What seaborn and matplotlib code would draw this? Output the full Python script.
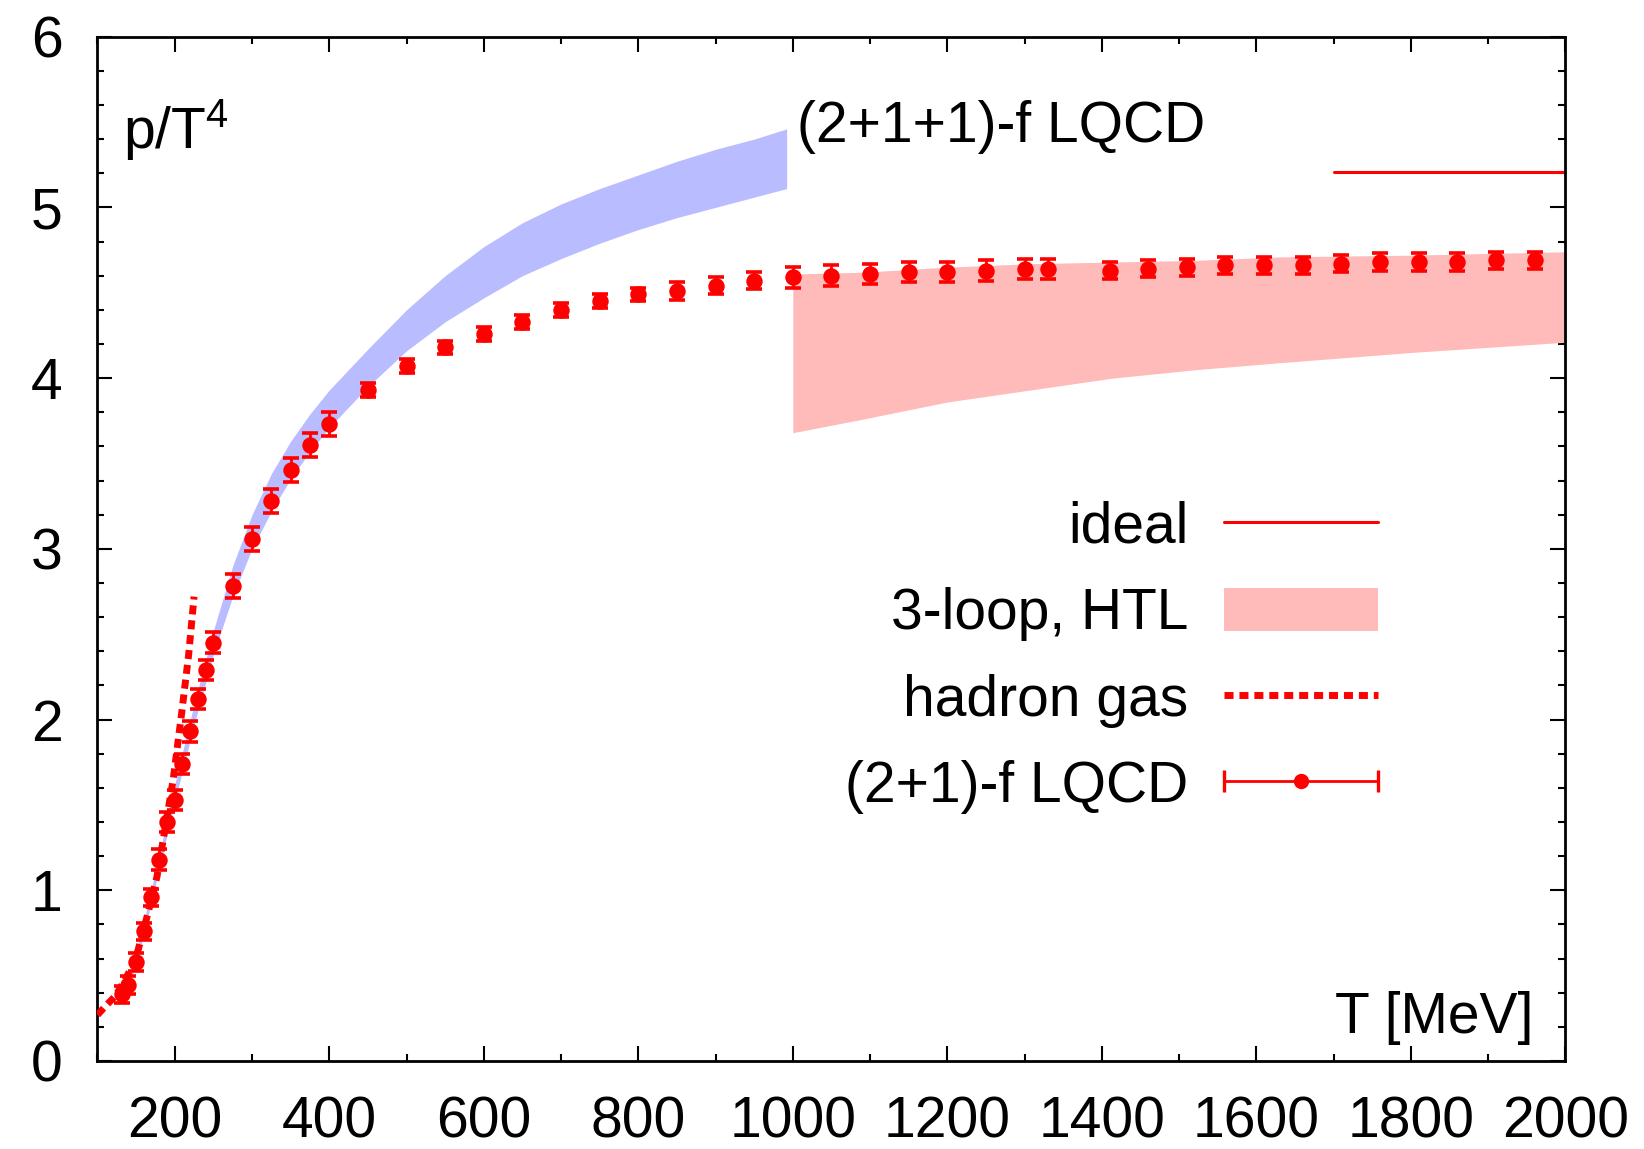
import numpy as np
import matplotlib
matplotlib.use("Agg")
import matplotlib.pyplot as plt
import seaborn as sns
from matplotlib.lines import Line2D
from matplotlib.patches import Patch
from matplotlib.legend_handler import HandlerLine2D, HandlerTuple
from matplotlib.ticker import MultipleLocator

# ----------------------------
# Data
# ----------------------------
# (2+1)-f LQCD points
T_lqcd = [132, 140, 150, 160, 169, 179, 190, 200, 210, 220, 230, 240, 250,
          276, 300, 325, 350, 375, 400, 450, 500, 550, 600, 650, 700, 750,
          800, 850, 900, 950, 1000, 1050, 1100, 1150, 1200, 1250, 1300, 1330,
          1410, 1460, 1510, 1560, 1610, 1660, 1710, 1760, 1810, 1860, 1910, 1960]
p_lqcd = [0.39, 0.445, 0.58, 0.76, 0.96, 1.18, 1.40, 1.53, 1.74, 1.93, 2.12, 2.29, 2.45,
          2.78, 3.06, 3.28, 3.46, 3.61, 3.73, 3.93, 4.07, 4.18, 4.26, 4.33, 4.40, 4.45,
          4.49, 4.51, 4.54, 4.57, 4.59, 4.60, 4.61, 4.62, 4.62, 4.63, 4.64, 4.64,
          4.63, 4.64, 4.65, 4.66, 4.66, 4.66, 4.67, 4.68, 4.68, 4.68, 4.69, 4.69]
err_lqcd = [0.05, 0.05, 0.05, 0.05, 0.05, 0.06, 0.06, 0.06, 0.06, 0.06, 0.06, 0.06, 0.06,
            0.07, 0.07, 0.07, 0.07, 0.07, 0.07, 0.04, 0.04, 0.04, 0.04, 0.04, 0.04, 0.04,
            0.04, 0.05, 0.05, 0.05, 0.06, 0.06, 0.06, 0.06, 0.06, 0.06, 0.06, 0.06,
            0.05, 0.05, 0.05, 0.05, 0.05, 0.05, 0.05, 0.05, 0.05, 0.05, 0.05, 0.05]

# (2+1+1)-f LQCD band
T_band = [140, 160, 180, 200, 225, 250, 275, 300, 325, 350, 375, 400, 450, 500,
          550, 600, 650, 700, 750, 800, 850, 900, 950, 992]
band_lo = [0.42, 0.74, 1.13, 1.52, 1.97, 2.38, 2.72, 3.00, 3.22, 3.41, 3.57, 3.71, 3.95, 4.16,
           4.33, 4.47, 4.60, 4.70, 4.79, 4.87, 4.94, 5.00, 5.06, 5.11]
band_hi = [0.48, 0.82, 1.21, 1.62, 2.09, 2.52, 2.90, 3.20, 3.44, 3.63, 3.79, 3.93, 4.17, 4.40,
           4.60, 4.77, 4.91, 5.02, 5.11, 5.19, 5.27, 5.34, 5.40, 5.46]

# 3-loop HTL band
T_htl = [1000, 1091, 1200, 1307, 1414, 1523, 1630, 1800, 2000]
htl_lo = [3.68, 3.76, 3.86, 3.93, 4.00, 4.05, 4.09, 4.15, 4.21]
htl_hi = [4.61, 4.62, 4.65, 4.67, 4.68, 4.69, 4.71, 4.72, 4.74]

# hadron gas
T_hrg = [100, 110, 123, 135, 149, 165, 177, 183, 198, 209, 218, 225]
p_hrg = [0.27, 0.32, 0.38, 0.47, 0.59, 0.86, 1.08, 1.24, 1.65, 2.04, 2.38, 2.72]

# ideal gas limit
T_ideal = [1700, 2000]
p_ideal = [5.209, 5.209]

# ----------------------------
# Style
# ----------------------------
sns.set_theme(style="ticks")
plt.rcParams["font.family"] = ["Liberation Sans", "DejaVu Sans"]
plt.rcParams["mathtext.default"] = "regular"
plt.rcParams["text.color"] = "black"
plt.rcParams["xtick.color"] = "black"
plt.rcParams["ytick.color"] = "black"
FS = 41
RED = "#ff0000"
PINK = "#ffbaba"
BLUE = "#b9bcff"

fig = plt.figure(figsize=(16.44, 11.49), dpi=100)
ax = fig.add_axes([0.0593, 0.0766, 0.8929, 0.8915])

# bands
ax.fill_between(T_band, band_lo, band_hi, color=BLUE, lw=0, zorder=1)
ax.fill_between(T_htl, htl_lo, htl_hi, color=PINK, lw=0, zorder=1)

# lines
sns.lineplot(x=T_ideal, y=p_ideal, color=RED, lw=2.2, ax=ax, zorder=2)
sns.lineplot(x=T_hrg, y=p_hrg, color=RED, lw=5, linestyle=(0, (1.3, 0.85)),
             ax=ax, zorder=4)

# lattice points
ax.errorbar(T_lqcd, p_lqcd, yerr=err_lqcd, fmt="none", ecolor=RED, elinewidth=2,
            capsize=6, capthick=2.6, zorder=3)
sns.scatterplot(x=T_lqcd, y=p_lqcd, color=RED, s=140, edgecolor=RED, linewidth=0,
                ax=ax, zorder=3)

# axes
ax.set_xlim(100, 2000)
ax.set_ylim(0, 6)
ax.xaxis.set_major_locator(MultipleLocator(200))
ax.xaxis.set_minor_locator(MultipleLocator(100))
ax.yaxis.set_major_locator(MultipleLocator(1))
ax.yaxis.set_minor_locator(MultipleLocator(0.2))
ax.tick_params(which="both", direction="in", top=True, right=True, color="black")
ax.tick_params(which="major", length=11, width=1.5)
ax.tick_params(which="minor", length=5, width=1.5)
ax.tick_params(axis="x", which="major", pad=25, labelsize=FS, labelcolor="black")
ax.tick_params(axis="y", which="major", pad=25, labelsize=FS, labelcolor="black")
for sp in ax.spines.values():
    sp.set_linewidth(2)
    sp.set_color("black")
ax.set_xlabel("")
ax.set_ylabel("")

# texts
ax.text(133, 5.35, r"p/T$^{4}$", fontsize=FS, va="baseline", ha="left", color="black")
ax.text(1005, 5.385, "(2+1+1)-f LQCD", fontsize=FS, va="baseline", ha="left", color="black")
ax.text(1959, 0.164, "T [MeV]", fontsize=FS, va="baseline", ha="right", color="black")

# legend
h_ideal = Line2D([], [], color=RED, lw=2.2)
h_htl = Patch(facecolor=PINK, edgecolor="none")
h_hrg = Line2D([], [], color=RED, lw=5, linestyle=(0, (1.3, 0.85)))
h_caps = Line2D([], [], color=RED, lw=2, marker="|", markersize=16, markeredgewidth=2.4)
h_dot = Line2D([], [], color=RED, linestyle="none", marker="o", markersize=10)
leg = ax.legend([h_ideal, h_htl, h_hrg, (h_caps, h_dot)],
                ["ideal", "3-loop, HTL", "hadron gas", "(2+1)-f LQCD"],
                loc="center right", bbox_to_anchor=(0.872, 0.394), frameon=False,
                markerfirst=False, handlelength=2.7, handleheight=0.8, handletextpad=0.62,
                labelspacing=0.57, borderpad=0, borderaxespad=0, fontsize=FS,
                handler_map={h_caps: HandlerLine2D(numpoints=2, marker_pad=0),
                             h_dot: HandlerLine2D(numpoints=1),
                             tuple: HandlerTuple(ndivide=1)})
for t in leg.get_texts():
    t.set_color("black")

fig.savefig("out.png", dpi=100)
